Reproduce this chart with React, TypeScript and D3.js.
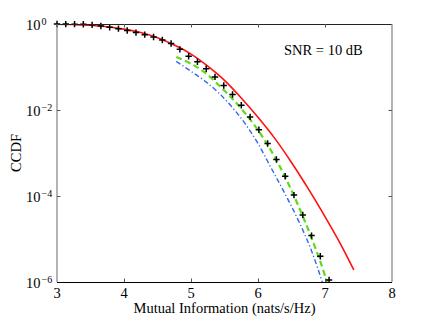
import React, { useEffect, useRef } from 'react';
import * as d3 from 'd3';

// simulated points (black +)
const simX = [3.000, 3.131, 3.262, 3.393, 3.524, 3.655, 3.786, 3.917, 4.048, 4.179,
  4.310, 4.441, 4.572, 4.703, 4.834, 4.965, 5.096, 5.227, 5.358, 5.489,
  5.620, 5.751, 5.882, 6.013, 6.144, 6.275, 6.406, 6.537, 6.668, 6.799, 6.930, 7.061];
const simCCDF = [0.998, 0.995, 0.993, 0.984, 0.955, 0.902, 0.841, 0.780, 0.705, 0.631,
  0.565, 0.498, 0.425, 0.351, 0.257, 0.178, 0.132, 0.0912, 0.0589, 0.0372,
  0.0229, 0.0129, 0.00692, 0.00347, 0.00166, 7.08e-4, 2.88e-4, 1.05e-4, 3.63e-5, 1.20e-5, 3.98e-6, 1.12e-6];

// red solid curve
const redX = [3.0, 3.25, 3.5, 3.75, 4.0, 4.25, 4.5, 4.75, 5.0, 5.25, 5.5, 5.75,
  6.0, 6.25, 6.5, 6.75, 7.0, 7.25, 7.43];
const redCCDF = [0.989, 0.970, 0.933, 0.861, 0.759, 0.631, 0.479, 0.324, 0.200, 0.105, 0.0490, 0.0191,
  0.00676, 0.00219, 6.03e-4, 1.48e-4, 3.31e-5, 6.76e-6, 1.91e-6];

// green dashed curve
const greenX = [4.78, 5.0, 5.2, 5.4, 5.6, 5.8, 6.0, 6.2, 6.4, 6.6, 6.8, 7.0, 7.03];
const greenCCDF = [0.170, 0.119, 0.0759, 0.0398, 0.0195, 0.00871, 0.00339, 0.0011, 2.88e-4, 6.03e-5, 1.05e-5, 1.41e-6, 1.0e-6];

// blue dash-dot curve
const blueX = [4.78, 5.0, 5.2, 5.4, 5.6, 5.8, 6.0, 6.2, 6.4, 6.6, 6.8, 6.96];
const blueCCDF = [0.135, 0.0794, 0.0479, 0.0263, 0.0123, 0.00501, 0.00166, 4.37e-4, 1.15e-4, 2.75e-5, 5.25e-6, 1.0e-6];

const xTicks = [3, 4, 5, 6, 7, 8];
const yTickExps = [0, -2, -4, -6];
const xLabel = 'Mutual Information (nats/s/Hz)';
const yLabel = 'CCDF';
const snrText = 'SNR = 10 dB';

const W = 432;
const H = 318;
const FONT = '"Liberation Serif", "Times New Roman", serif';

const App = () => {
  const svgRef = useRef<SVGSVGElement>(null);

  useEffect(() => {
    const svg = d3.select(svgRef.current);
    svg.selectAll('*').remove();

    const left = 57, right = 392, top = 24, bottom = 282;

    const x = d3.scaleLinear().domain([3, 8]).range([left, right]);
    const y = d3.scaleLog().domain([1e-6, 1]).range([bottom, top]);

    svg.append('rect').attr('width', W).attr('height', H).attr('fill', '#fff');

    svg.append('defs').append('clipPath').attr('id', 'plot-clip')
      .append('rect')
      .attr('x', left).attr('y', top)
      .attr('width', right - left).attr('height', bottom - top);

    const plot = svg.append('g').attr('clip-path', 'url(#plot-clip)');

    const line = (xs: number[], ys: number[]) =>
      d3.line<number>()
        .x((_, i) => x(xs[i]))
        .y(d => y(d))
        .curve(d3.curveMonotoneX)(ys);

    // green dashed
    plot.append('path')
      .attr('d', line(greenX, greenCCDF))
      .attr('fill', 'none')
      .attr('stroke', '#5fd91c')
      .attr('stroke-width', 2.2)
      .attr('stroke-dasharray', '6,3.5');

    // blue dash-dot
    plot.append('path')
      .attr('d', line(blueX, blueCCDF))
      .attr('fill', 'none')
      .attr('stroke', '#3366ee')
      .attr('stroke-width', 1.4)
      .attr('stroke-dasharray', '5,2.5,1.2,2.5');

    // red solid
    plot.append('path')
      .attr('d', line(redX, redCCDF))
      .attr('fill', 'none')
      .attr('stroke', '#ff1010')
      .attr('stroke-width', 1.6);

    // + markers
    svg.append('g').selectAll('path')
      .data(simCCDF)
      .enter().append('path')
      .attr('transform', (d, i) => `translate(${x(simX[i])},${y(d)})`)
      .attr('d', 'M-3.2,0H3.2M0,-3.2V3.2')
      .attr('stroke', '#000')
      .attr('stroke-width', 1.5);

    // box
    svg.append('line').attr('x1', left).attr('x2', right).attr('y1', top + 0.5).attr('y2', top + 0.5)
      .attr('stroke', '#222').attr('stroke-width', 1);
    svg.append('line').attr('x1', left).attr('x2', right).attr('y1', bottom + 0.5).attr('y2', bottom + 0.5)
      .attr('stroke', '#000').attr('stroke-width', 1);
    svg.append('line').attr('x1', left).attr('x2', left).attr('y1', top).attr('y2', bottom)
      .attr('stroke', '#808080').attr('stroke-width', 1.2);
    svg.append('line').attr('x1', right).attr('x2', right).attr('y1', top).attr('y2', bottom)
      .attr('stroke', '#808080').attr('stroke-width', 1.2);

    // x ticks (inward, top and bottom)
    const tickLen = 3.5;
    xTicks.slice(1, -1).forEach(t => {
      const px = Math.round(x(t)) + 0.5;
      svg.append('line').attr('x1', px).attr('x2', px).attr('y1', bottom).attr('y2', bottom - tickLen)
        .attr('stroke', '#555').attr('stroke-width', 1);
      svg.append('line').attr('x1', px).attr('x2', px).attr('y1', top).attr('y2', top + tickLen)
        .attr('stroke', '#555').attr('stroke-width', 1);
    });

    // y ticks (inward, left and right)
    yTickExps.slice(1, -1).forEach(e => {
      const py = Math.round(y(Math.pow(10, e))) + 0.5;
      svg.append('line').attr('x1', left).attr('x2', left + tickLen).attr('y1', py).attr('y2', py)
        .attr('stroke', '#555').attr('stroke-width', 1);
      svg.append('line').attr('x1', right).attr('x2', right - tickLen).attr('y1', py).attr('y2', py)
        .attr('stroke', '#555').attr('stroke-width', 1);
    });

    // x tick labels
    svg.append('g').selectAll('text')
      .data(xTicks)
      .enter().append('text')
      .attr('x', d => x(d))
      .attr('y', 298)
      .attr('text-anchor', 'middle')
      .attr('font-family', FONT)
      .attr('font-size', 14.5)
      .attr('fill', '#000')
      .text(d => d);

    // y tick labels: 10^e
    const yl = svg.append('g').attr('font-family', FONT).attr('fill', '#000');
    yTickExps.forEach(e => {
      const py = y(Math.pow(10, e));
      yl.append('text')
        .attr('x', 26)
        .attr('y', py + 6)
        .attr('font-size', 14.5)
        .text('10');
      yl.append('text')
        .attr('x', 41.5)
        .attr('y', py + 0.5)
        .attr('font-size', 10)
        .text(e === 0 ? '0' : `\u2212${-e}`);
    });

    // axis labels
    svg.append('text')
      .attr('x', (left + right) / 2)
      .attr('y', 313)
      .attr('text-anchor', 'middle')
      .attr('font-family', FONT)
      .attr('font-size', 14.5)
      .text(xLabel);

    svg.append('text')
      .attr('transform', `translate(21,${(top + bottom) / 2}) rotate(-90)`)
      .attr('text-anchor', 'middle')
      .attr('font-family', FONT)
      .attr('font-size', 14.5)
      .text(yLabel);

    svg.append('text')
      .attr('x', 284)
      .attr('y', 54.5)
      .attr('font-family', FONT)
      .attr('font-size', 14.5)
      .text(snrText);
  }, []);

  return (
    <div style={{ position: 'absolute', left: 0, top: 0 }}>
      <svg ref={svgRef} width={W} height={H} style={{ display: 'block' }}></svg>
    </div>
  );
};

export default App;
